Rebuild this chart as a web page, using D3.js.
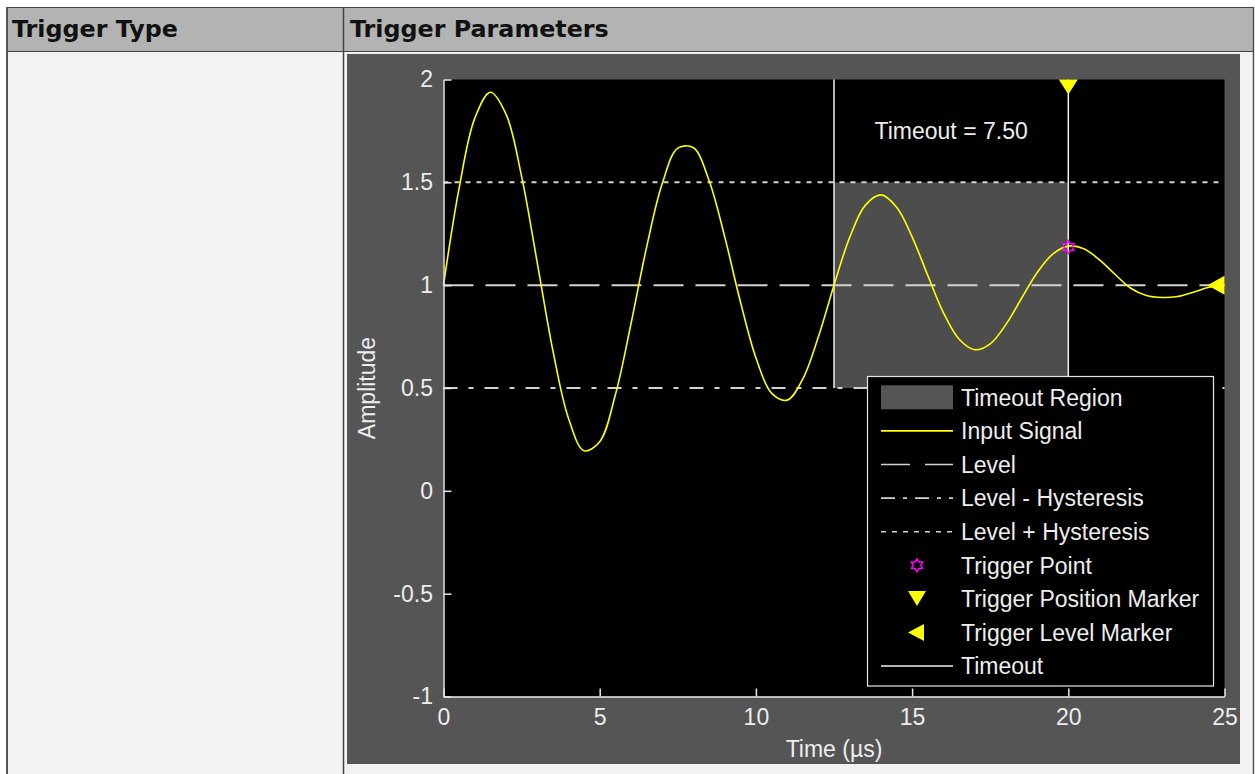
<!DOCTYPE html>
<html>
<head>
<meta charset="utf-8">
<script src="https://cdn.jsdelivr.net/npm/d3@7"></script>
<style>
  html, body { margin: 0; padding: 0; background: #ffffff; }
  svg { display: block; }
</style>
</head>
<body>
<div id="chart"></div>
<script>
// ---------- data ----------
const headerLabels = ["Trigger Type", "Trigger Parameters"];
const timeUs = [0,0.5,1,1.5,2,2.5,3,3.5,4,4.5,5,5.5,6,6.5,7,7.5,8,8.5,9,9.5,10,10.5,11,11.5,12,12.5,13,13.5,14,14.5,15,15.5,16,16.5,17,17.5,18,18.5,19,19.5,20,20.5,21,21.5,22,22.5,23,23.5,24,24.5,25];
const amplitude = [1.000,1.472,1.811,1.938,1.832,1.529,1.110,0.683,0.353,0.195,0.239,0.466,0.811,1.184,1.493,1.666,1.668,1.509,1.236,0.922,0.647,0.475,0.441,0.544,0.749,1.000,1.231,1.388,1.439,1.380,1.235,1.048,0.867,0.738,0.686,0.715,0.808,0.935,1.060,1.151,1.190,1.177,1.123,1.052,0.985,0.950,0.940,0.945,0.966,0.990,1.000];
const xTicks = [0,5,10,15,20,25];
const yTicks = [-1,-0.5,0,0.5,1,1.5,2];
const xDomain = [0,25];
const yDomain = [-1,2];
const level = 1.0;
const levelMinusHyst = 0.5;
const levelPlusHyst = 1.5;
const timeoutStart = 12.5;
const triggerTime = 20;
const triggerPointValue = 1.185;
const timeoutLabel = "Timeout = 7.50";
const xLabel = "Time (µs)";
const yLabel = "Amplitude";
const legendLabels = ["Timeout Region","Input Signal","Level","Level - Hysteresis","Level + Hysteresis","Trigger Point","Trigger Position Marker","Trigger Level Marker","Timeout"];

// ---------- layout ----------
const W = 1255, H = 774;
const svg = d3.select("#chart").append("svg").attr("width", W).attr("height", H);

// table
svg.append("rect").attr("x",7).attr("y",8).attr("width",1246).attr("height",43).attr("fill","#b3b3b3");
svg.append("rect").attr("x",7).attr("y",52).attr("width",1246).attr("height",722).attr("fill","#f2f2f2");
const borderColor = "#444";
svg.append("line").attr("x1",6).attr("x2",1254).attr("y1",7.5).attr("y2",7.5).attr("stroke",borderColor).attr("stroke-width",1.2);
svg.append("line").attr("x1",6).attr("x2",1254).attr("y1",51.5).attr("y2",51.5).attr("stroke",borderColor).attr("stroke-width",1.2);
svg.append("line").attr("x1",7).attr("x2",7).attr("y1",7).attr("y2",774).attr("stroke","#555").attr("stroke-width",2);
svg.append("line").attr("x1",1253.5).attr("x2",1253.5).attr("y1",7).attr("y2",774).attr("stroke","#555").attr("stroke-width",1.5);
svg.append("line").attr("x1",343.5).attr("x2",343.5).attr("y1",7).attr("y2",774).attr("stroke",borderColor).attr("stroke-width",1.5);

svg.selectAll("text.hdr").data(headerLabels).enter().append("text")
  .attr("class","hdr")
  .attr("x",(d,i)=> i===0 ? 12 : 350)
  .attr("y",37)
  .attr("font-family","'DejaVu Sans', sans-serif")
  .attr("font-weight","bold")
  .attr("font-size",23.8)
  .attr("fill","#111")
  .text(d=>d);

// figure background
svg.append("rect").attr("x",347).attr("y",54).attr("width",893).attr("height",710).attr("fill","#555555");

// scales
const x = d3.scaleLinear().domain(xDomain).range([443.5,1224.5]);
const y = d3.scaleLinear().domain(yDomain).range([696.5,79.5]);

const font = "'Liberation Sans', Arial, sans-serif";
const textColor = "#ededed";
const lineGray = "#d2d2d2";

// plot area
svg.append("rect").attr("x",x(0)).attr("y",y(2)).attr("width",x(25)-x(0)).attr("height",y(-1)-y(2)).attr("fill","#000");

// timeout region
svg.append("rect")
  .attr("x",x(timeoutStart)).attr("y",y(levelPlusHyst))
  .attr("width",x(triggerTime)-x(timeoutStart))
  .attr("height",y(levelMinusHyst)-y(levelPlusHyst))
  .attr("fill","#4d4d4d");

// horizontal reference lines
const hLines = [
  {v: level, dash: "30,12"},
  {v: levelMinusHyst, dash: "14,11,5,11"},
  {v: levelPlusHyst, dash: "5,6"}
];
svg.selectAll("line.href").data(hLines).enter().append("line")
  .attr("class","href")
  .attr("x1",x(0)).attr("x2",x(25))
  .attr("y1",d=>y(d.v)).attr("y2",d=>y(d.v))
  .attr("stroke",lineGray).attr("stroke-width",2)
  .attr("stroke-dasharray",d=>d.dash);

// timeout vertical lines
[timeoutStart, triggerTime].forEach(t=>{
  svg.append("line").attr("x1",x(t)).attr("x2",x(t))
    .attr("y1",y(2)).attr("y2",y(levelMinusHyst))
    .attr("stroke","#f0f0f0").attr("stroke-width",1.5);
});

// signal
const sig = timeUs.map((t,i)=>[t,amplitude[i]]);
svg.append("path").datum(sig)
  .attr("d", d3.line().x(d=>x(d[0])).y(d=>y(d[1])).curve(d3.curveCatmullRom.alpha(0.5)))
  .attr("fill","none").attr("stroke","#ffff00").attr("stroke-width",1.6);

// hexagram generator
function hexagram(r){
  const pts = d3.range(12).map(k=>[k*Math.PI/6, k%2===0 ? r : r/Math.sqrt(3)]);
  return d3.lineRadial().angle(d=>d[0]).radius(d=>d[1]).curve(d3.curveLinearClosed)(pts);
}
svg.append("path").attr("d",hexagram(6.5))
  .attr("transform",`translate(${x(triggerTime)},${y(triggerPointValue)})`)
  .attr("fill","none").attr("stroke","#ff00ff").attr("stroke-width",1.5);

// trigger position marker (down triangle at top)
const tpx = x(triggerTime), tpy = y(2);
svg.append("path").attr("d", d3.line()([[tpx-9.5,tpy],[tpx+9.5,tpy],[tpx,tpy+15]]) + "Z").attr("fill","#ffff00");
// trigger level marker (left triangle at right edge)
const tlx = x(25), tly = y(level);
svg.append("path").attr("d", d3.line()([[tlx,tly-9.5],[tlx,tly+9.5],[tlx-17,tly]]) + "Z").attr("fill","#ffff00");

// timeout label
svg.append("text").attr("x",x((timeoutStart+triggerTime)/2)).attr("y",y(1.75)+8)
  .attr("text-anchor","middle").attr("font-family",font).attr("font-size",23).attr("fill",textColor)
  .text(timeoutLabel);

// legend
const lg = svg.append("g");
lg.append("rect").attr("x",867.5).attr("y",376.5).attr("width",346).attr("height",309.5)
  .attr("fill","#000").attr("stroke","#e6e6e6").attr("stroke-width",1.2);
const rowY = i => 397.3 + i*33.6;
const sx0 = 881, sx1 = 953, mx = 917;
lg.append("rect").attr("x",sx0).attr("y",rowY(0)-12).attr("width",sx1-sx0).attr("height",24).attr("fill","#555555");
lg.append("line").attr("x1",sx0).attr("x2",sx1).attr("y1",rowY(1)).attr("y2",rowY(1)).attr("stroke","#ffff00").attr("stroke-width",1.6);
lg.append("line").attr("x1",sx0).attr("x2",sx1).attr("y1",rowY(2)).attr("y2",rowY(2)).attr("stroke",lineGray).attr("stroke-width",1.6).attr("stroke-dasharray","29,15");
lg.append("line").attr("x1",sx0).attr("x2",sx1).attr("y1",rowY(3)).attr("y2",rowY(3)).attr("stroke",lineGray).attr("stroke-width",1.6).attr("stroke-dasharray","14,8,4,8");
lg.append("line").attr("x1",sx0).attr("x2",sx1).attr("y1",rowY(4)).attr("y2",rowY(4)).attr("stroke",lineGray).attr("stroke-width",1.6).attr("stroke-dasharray","5,6");
lg.append("path").attr("d",hexagram(6.5)).attr("transform",`translate(${mx},${rowY(5)})`).attr("fill","none").attr("stroke","#ff00ff").attr("stroke-width",1.5);
lg.append("path").attr("d",d3.line()([[mx-9,rowY(6)-8],[mx+9,rowY(6)-8],[mx,rowY(6)+7]])+"Z").attr("fill","#ffff00");
lg.append("path").attr("d",d3.line()([[mx+7,rowY(7)-8.5],[mx+7,rowY(7)+8.5],[mx-9,rowY(7)]])+"Z").attr("fill","#ffff00");
lg.append("line").attr("x1",sx0).attr("x2",sx1).attr("y1",rowY(8)).attr("y2",rowY(8)).attr("stroke","#f0f0f0").attr("stroke-width",1.5);
lg.selectAll("text").data(legendLabels).enter().append("text")
  .attr("x",961).attr("y",(d,i)=>rowY(i)+8.3)
  .attr("font-family",font).attr("font-size",23).attr("fill",textColor)
  .text(d=>d);

// axes
const axisColor = "#e6e6e6";
const yAxis = svg.append("g").attr("transform",`translate(${x(0)},0)`)
  .call(d3.axisLeft(y).tickValues(yTicks).tickFormat(d=>String(d)).tickSizeInner(-8).tickSizeOuter(0).tickPadding(10.5));
const xAxis = svg.append("g").attr("transform",`translate(0,${y(-1)})`)
  .call(d3.axisBottom(x).tickValues(xTicks).tickFormat(d=>String(d)).tickSizeInner(-8).tickSizeOuter(0).tickPadding(12));
[yAxis, xAxis].forEach(g=>{
  g.attr("font-family",font).attr("font-size",23);
  g.select(".domain").attr("stroke",axisColor).attr("stroke-width",1.5);
  g.selectAll(".tick line").attr("stroke",axisColor).attr("stroke-width",1.5);
  g.selectAll(".tick text").attr("fill",textColor);
});

// axis labels
svg.append("text").attr("x",(x(0)+x(25))/2).attr("y",757)
  .attr("text-anchor","middle").attr("font-family",font).attr("font-size",23).attr("fill",textColor)
  .text(xLabel);
svg.append("text").attr("transform",`translate(375,${(y(-1)+y(2))/2}) rotate(-90)`)
  .attr("text-anchor","middle").attr("font-family",font).attr("font-size",23).attr("fill",textColor)
  .text(yLabel);
</script>
</body>
</html>
